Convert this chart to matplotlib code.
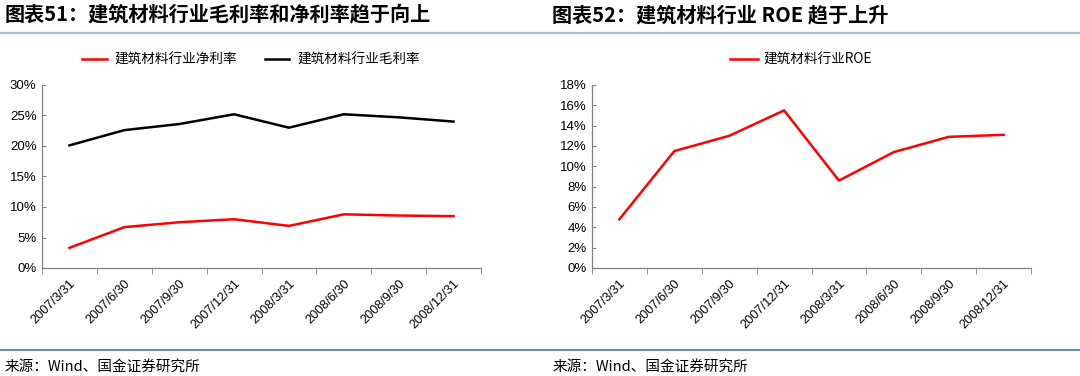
import matplotlib.pyplot as plt
from matplotlib.lines import Line2D

plt.rcParams['font.family'] = ['Liberation Sans', 'Noto Sans CJK SC', 'DejaVu Sans']

dates = ['2007/3/31', '2007/6/30', '2007/9/30', '2007/12/31',
         '2008/3/31', '2008/6/30', '2008/9/30', '2008/12/31']
net_margin = [3.3, 6.7, 7.5, 8.0, 6.9, 8.8, 8.6, 8.5]
gross_margin = [20.1, 22.6, 23.6, 25.2, 23.0, 25.2, 24.7, 24.0]
roe = [4.8, 11.5, 13.0, 15.5, 8.6, 11.4, 12.9, 13.1]

cjk = ['Noto Sans CJK SC', 'DejaVu Sans']

fig = plt.figure(figsize=(10.8, 3.76), dpi=100)

# separator lines
fig.add_artist(Line2D([0, 1], [1 - 32.5 / 376] * 2, color='#a9bfd1', lw=1.6))
fig.add_artist(Line2D([0, 1], [1 - 350 / 376] * 2, color='#41808f', lw=1.2))

fig.text(0.004, 1 - 15 / 376, '图表51：建筑材料行业毛利率和净利率趋于向上', family=cjk,
         fontsize=14.5, fontweight='bold', style='italic', va='center')
fig.text(0.511, 1 - 15 / 376, '图表52：建筑材料行业 ROE 趋于上升', family=cjk,
         fontsize=14.5, fontweight='bold', style='italic', va='center')
fig.text(0.004, 1 - 367 / 376, '来源：Wind、国金证券研究所', family=cjk, fontsize=10.5, va='center')
fig.text(0.512, 1 - 367 / 376, '来源：Wind、国金证券研究所', family=cjk, fontsize=10.5, va='center')


def style_axes(ax, ymax, step):
    x = range(len(dates))
    ax.set_xlim(-0.5, len(dates) - 0.5)
    ax.set_ylim(0, ymax)
    ax.set_yticks(range(0, ymax + 1, step))
    ax.set_yticklabels([f'{v}%' for v in range(0, ymax + 1, step)], fontsize=9.5)
    ax.set_xticks(list(x))
    ax.set_xticklabels(dates, rotation=45, ha='right', rotation_mode='anchor', fontsize=9.2)
    ax.set_xticks([i - 0.5 for i in range(len(dates) + 1)], minor=True)
    ax.tick_params(axis='x', which='major', length=0, pad=7)
    ax.tick_params(axis='x', which='minor', length=4, direction='out', color='#808080')
    ax.tick_params(axis='y', length=3, direction='in', color='#808080', pad=4)
    for s in ['top', 'right']:
        ax.spines[s].set_visible(False)
    for s in ['left', 'bottom']:
        ax.spines[s].set_color('#808080')
        ax.spines[s].set_linewidth(0.9)


ax1 = fig.add_axes([42 / 1080, 108 / 376, 439 / 1080, 183 / 376])
ax1.plot(range(len(dates)), net_margin, color='#ff0000', lw=1.8, label='建筑材料行业净利率')
ax1.plot(range(len(dates)), gross_margin, color='#000000', lw=1.8, label='建筑材料行业毛利率')
style_axes(ax1, 30, 5)
ax1.legend(loc='center', bbox_to_anchor=(0.476, 1.14), ncol=2, frameon=False,
           prop={'family': cjk, 'size': 9.8}, handlelength=1.8, handletextpad=0.6,
           columnspacing=2.0)

ax2 = fig.add_axes([592 / 1080, 108 / 376, 439 / 1080, 183 / 376])
ax2.plot(range(len(dates)), roe, color='#ff0000', lw=1.8, label='建筑材料行业ROE')
style_axes(ax2, 18, 2)
ax2.legend(loc='center', bbox_to_anchor=(0.476, 1.14), frameon=False,
           prop={'family': cjk, 'size': 9.8}, handlelength=2.0, handletextpad=0.4)

fig.savefig('out.png', dpi=100)
